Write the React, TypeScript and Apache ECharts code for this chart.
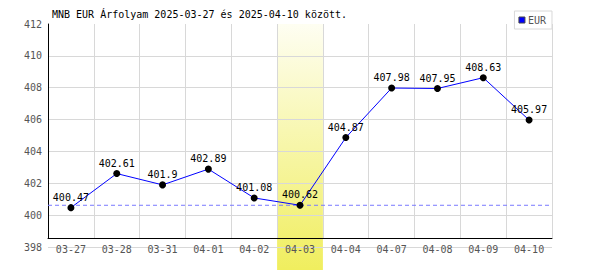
import React, { useEffect, useRef } from "react";
import * as echarts from "echarts";

const categories = ["03-27", "03-28", "03-31", "04-01", "04-02", "04-03", "04-04", "04-07", "04-08", "04-09", "04-10"];
const eurValues = [400.47, 402.61, 401.9, 402.89, 401.08, 400.62, 404.87, 407.98, 407.95, 408.63, 405.97];
const highlightDate = "04-03";
const referenceValue = 400.62;
const yMin = 398;
const yMax = 412;
const yStep = 2;
const titleText = "MNB EUR Árfolyam 2025-03-27 és 2025-04-10 között.";
const seriesName = "EUR";

const FONT = "DejaVu Sans Mono";

export default function App() {
  const ref = useRef<HTMLDivElement>(null);
  useEffect(() => {
    if (!ref.current) return;
    const chart = echarts.init(ref.current, null, { renderer: "svg" });
    const bandData = categories.map((c) => (c === highlightDate ? 1 : null));
    const refLineData = [
      [0, referenceValue],
      [1, referenceValue],
    ];
    const gridPos = { left: 48, right: 48 };
    chart.setOption({
      animation: false,
      title: {
        text: titleText,
        left: 48,
        top: 9,
        padding: [0, 4],
        textStyle: { fontFamily: FONT, fontSize: 10, fontWeight: "normal", color: "#000" },
      },
      legend: {
        right: 48,
        top: 11,
        padding: [4, 6, 4, 4],
        borderColor: "#d8d8d8",
        borderWidth: 1,
        backgroundColor: "#fff",
        icon: "rect",
        itemWidth: 6,
        itemHeight: 6,
        itemGap: 4,
        textStyle: { fontFamily: FONT, fontSize: 10, color: "#555", padding: [0, 0, 0, -2] },
        data: [{ name: seriesName, itemStyle: { color: "#0000ff", borderColor: "#444", borderWidth: 1 } }],
      },
      grid: [
        { ...gridPos, top: 24, bottom: 23 },
        { ...gridPos, top: 24, bottom: 32 },
        { ...gridPos, top: 24, bottom: 0 },
      ],
      xAxis: [
        {
          type: "category",
          gridIndex: 0,
          data: categories,
          boundaryGap: true,
          axisLine: { show: false },
          axisTick: { show: false },
          axisLabel: { show: false },
          splitLine: { show: false },
        },
        {
          type: "category",
          gridIndex: 1,
          data: categories,
          boundaryGap: true,
          axisLine: { show: true, onZero: false, lineStyle: { color: "#000", width: 1 } },
          axisTick: { show: false },
          axisLabel: { interval: 0, margin: 6, fontFamily: FONT, fontSize: 10, color: "#555" },
          splitLine: { show: true, interval: 0, lineStyle: { color: "#d8d8d8", width: 1 } },
        },
        {
          type: "category",
          gridIndex: 2,
          data: categories,
          show: false,
        },
        {
          type: "value",
          gridIndex: 0,
          min: 0,
          max: 1,
          show: false,
        },
      ],
      yAxis: [
        {
          type: "value",
          gridIndex: 0,
          min: yMin,
          max: yMax,
          interval: yStep,
          axisLine: { show: false },
          axisTick: { show: false },
          axisLabel: { margin: 6, fontFamily: FONT, fontSize: 10, color: "#555" },
          splitLine: { show: true, showMaxLine: false, lineStyle: { color: "#d8d8d8", width: 1 } },
        },
        {
          type: "value",
          gridIndex: 1,
          min: 0,
          max: 1,
          axisLine: { show: true, onZero: false, lineStyle: { color: "#000", width: 1 } },
          axisTick: { show: false },
          axisLabel: { show: false },
          splitLine: { show: false },
        },
        {
          type: "value",
          gridIndex: 2,
          min: 0,
          max: 1,
          show: false,
        },
      ],
      series: [
        {
          type: "bar",
          xAxisIndex: 2,
          yAxisIndex: 2,
          data: bandData,
          barWidth: "100%",
          z: -1,
          silent: true,
          itemStyle: {
            color: new echarts.graphic.LinearGradient(0, 0, 0, 1, [
              { offset: 0, color: "#fefef2" },
              { offset: 1, color: "#f0ee5e" },
            ]),
          },
        },
        {
          name: "ref",
          type: "line",
          xAxisIndex: 3,
          yAxisIndex: 0,
          data: refLineData,
          symbol: "none",
          silent: true,
          z: 1,
          color: "#7a7aff",
          lineStyle: { color: "#7a7aff", type: [4, 3], width: 1 },
        },
        {
          name: seriesName,
          type: "line",
          xAxisIndex: 0,
          yAxisIndex: 0,
          data: eurValues,
          symbol: "circle",
          symbolSize: 7,
          itemStyle: { color: "#000" },
          lineStyle: { color: "#0000ff", width: 1 },
          label: {
            show: true,
            position: "top",
            distance: 2,
            fontFamily: FONT,
            fontSize: 10,
            color: "#000",
          },
        },
      ],
    });
    return () => chart.dispose();
  }, []);
  return <div ref={ref} style={{ width: 600, height: 270, margin: "-8px -8px 0 -8px" }} />;
}
